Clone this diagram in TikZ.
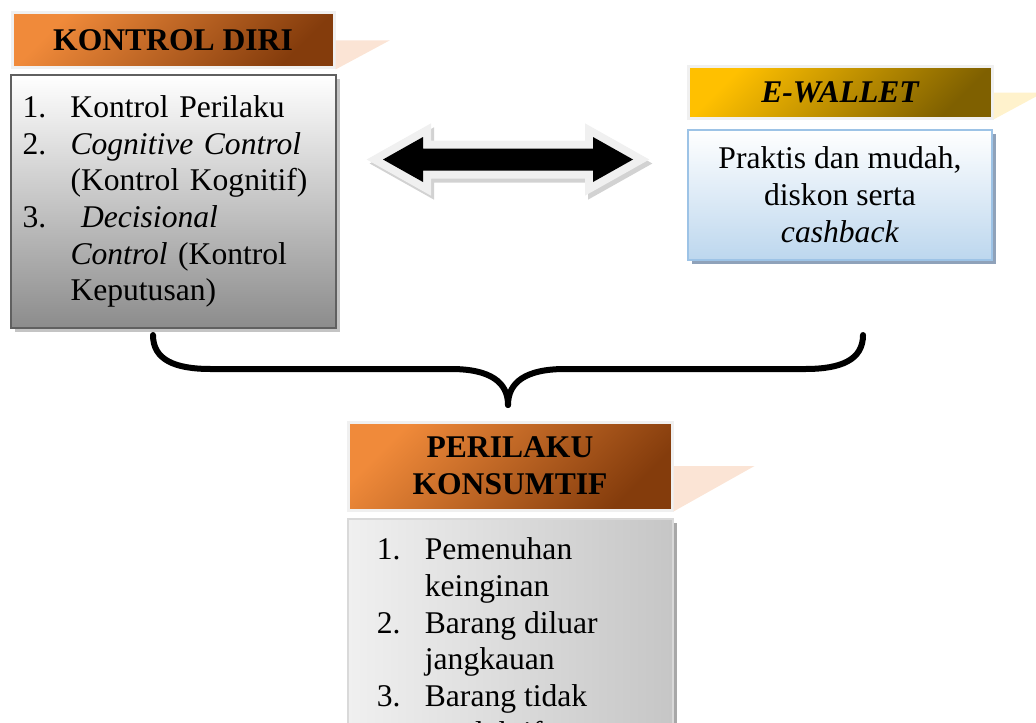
\documentclass[tikz,border=0pt]{standalone}
\usepackage{fontspec}
\setmainfont{Liberation Serif}
\usetikzlibrary{positioning,shadows}
\definecolor{kdorange}{HTML}{F08A3A}
\definecolor{kdbrown}{HTML}{843C0C}
\definecolor{ewgold}{HTML}{FFC000}
\definecolor{ewdark}{HTML}{7F6000}
\definecolor{peach}{HTML}{FBE4D5}
\definecolor{cream}{HTML}{FFF2CC}
\definecolor{glow}{HTML}{F0F0F0}
\definecolor{kdgray}{HTML}{8C8C8C}
\definecolor{kdline}{HTML}{606060}
\definecolor{kdshadow}{HTML}{C4C4C4}
\definecolor{ewblue}{HTML}{BDD7EE}
\definecolor{ewline}{HTML}{9DC3E6}
\definecolor{ewshadow}{HTML}{8FA2BA}
\definecolor{pklight}{HTML}{F0F0F0}
\definecolor{pkdark}{HTML}{C6C6C6}
\definecolor{pkshadow}{HTML}{A8A8A8}
\newcommand{\nr}[1]{\makebox[24pt][l]{#1}}
\newcommand{\ind}{\hspace*{24pt}}
\begin{document}
\begin{tikzpicture}[x=0.5pt,y=-0.5pt,
  txt/.style={font=\fontsize{15.8}{18.35}\selectfont},
  head/.style={txt,font=\bfseries\fontsize{15.8}{18.35}\selectfont,draw=glow,line width=1.5pt,align=center,inner sep=0pt},
  orangehead/.style={head,top color=kdorange,bottom color=kdbrown,shading angle=45},
  goldhead/.style={head,top color=ewgold,bottom color=ewdark,shading angle=45},
  brace/.style={line width=3pt,line cap=round},
  ]
\useasboundingbox (0,0) rectangle (1036,722);
\clip (0,0) rectangle (1036,722);

% kontrol diri
\node[orangehead,minimum width=161pt,minimum height=27.5pt] (hdrKD) at (173,40.5) {\raisebox{-1.5pt}{KONTROL DIRI}};
\fill[peach] (hdrKD.east) -- ++(54,0) -- (hdrKD.south east) -- cycle;
\node[txt,draw=kdline,line width=1pt,top color=white,bottom color=kdgray,
  drop shadow={shadow xshift=2pt,shadow yshift=-2pt,fill=kdshadow,opacity=1},
  minimum width=162.5pt,minimum height=126pt,text width=150.5pt,inner xsep=6pt,align=left,
  below=2.5pt of hdrKD] (boxKD) {\nr{1.}Kontrol Perilaku\\
  \nr{2.}\textit{Cognitive Control}\\
  \ind(Kontrol Kognitif)\\
  \nr{3.}\ \textit{Decisional}\\
  \ind\textit{Control} (Kontrol\\
  \ind Keputusan)};

% e-wallet
\node[goldhead,font=\bfseries\itshape\fontsize{15.8}{18.35}\selectfont,minimum width=152pt,minimum height=25.5pt] (hdrEW) at (840,92.5) {\raisebox{-1.5pt}{E-WALLET}};
\fill[cream] (hdrEW.east) -- ++(50,0) -- (hdrEW.south east) -- cycle;
\node[txt,draw=ewline,line width=1pt,top color=white,bottom color=ewblue,
  drop shadow={shadow xshift=2pt,shadow yshift=-2pt,fill=ewshadow,opacity=1},
  minimum width=152pt,minimum height=65pt,align=center,
  below=4.5pt of hdrEW] (boxEW) {Praktis dan mudah,\\diskon serta\\\textit{cashback}};

% panah dua arah
\begin{scope}[shift={(508,159.5)}]
\coordinate (arr) at (0,0);
\filldraw[gray!35,line width=8pt,shift={(3,4)}] (-125,0) -- (-85,-22.5) -- (-85,-11) -- (85,-11) -- (85,-22.5) -- (125,0) -- (85,22.5) -- (85,11) -- (-85,11) -- (-85,22.5) -- cycle;
\draw[glow,line width=8pt] (-125,0) -- (-85,-22.5) -- (-85,-11) -- (85,-11) -- (85,-22.5) -- (125,0) -- (85,22.5) -- (85,11) -- (-85,11) -- (-85,22.5) -- cycle;
\fill[black] (-125,0) -- (-85,-22.5) -- (-85,-11) -- (85,-11) -- (85,-22.5) -- (125,0) -- (85,22.5) -- (85,11) -- (-85,11) -- (-85,22.5) -- cycle;
\end{scope}

% perilaku konsumtif
\node[orangehead,minimum width=162pt,minimum height=44pt] (hdrPK) at (510,466) {\raisebox{-2.5pt}{\parbox{150pt}{\centering PERILAKU\\KONSUMTIF}}};
\fill[peach] (hdrPK.east) -- ++(81,0) -- (hdrPK.south east) -- cycle;
\node[draw=glow!80!gray,line width=1pt,left color=pklight,right color=pkdark,
  drop shadow={shadow xshift=2pt,shadow yshift=-2pt,fill=pkshadow,opacity=1},
  minimum width=162.5pt,minimum height=150pt,anchor=north,
  below=3pt of hdrPK] (boxPK) {};
\node[txt,align=left,inner sep=0pt,below right=10pt and 15pt of boxPK.north west] (listPK) {\nr{1.}Pemenuhan\\
  \ind keinginan\\
  \nr{2.}Barang diluar\\
  \ind jangkauan\\
  \nr{3.}Barang tidak\\
  \ind produktif};

% kurung kurawal
\coordinate (bl) at (153,335);
\coordinate (br) at (863,335);
\coordinate (bt) at (508,405);
\draw[brace] (bl) .. controls (153,360) and (175,369) .. (211,369) -- (451,369) .. controls (490,369) and (508,382) .. (bt);
\draw[brace] (br) .. controls (863,360) and (841,369) .. (805,369) -- (565,369) .. controls (526,369) and (508,382) .. (bt);
\end{tikzpicture}
\end{document}
